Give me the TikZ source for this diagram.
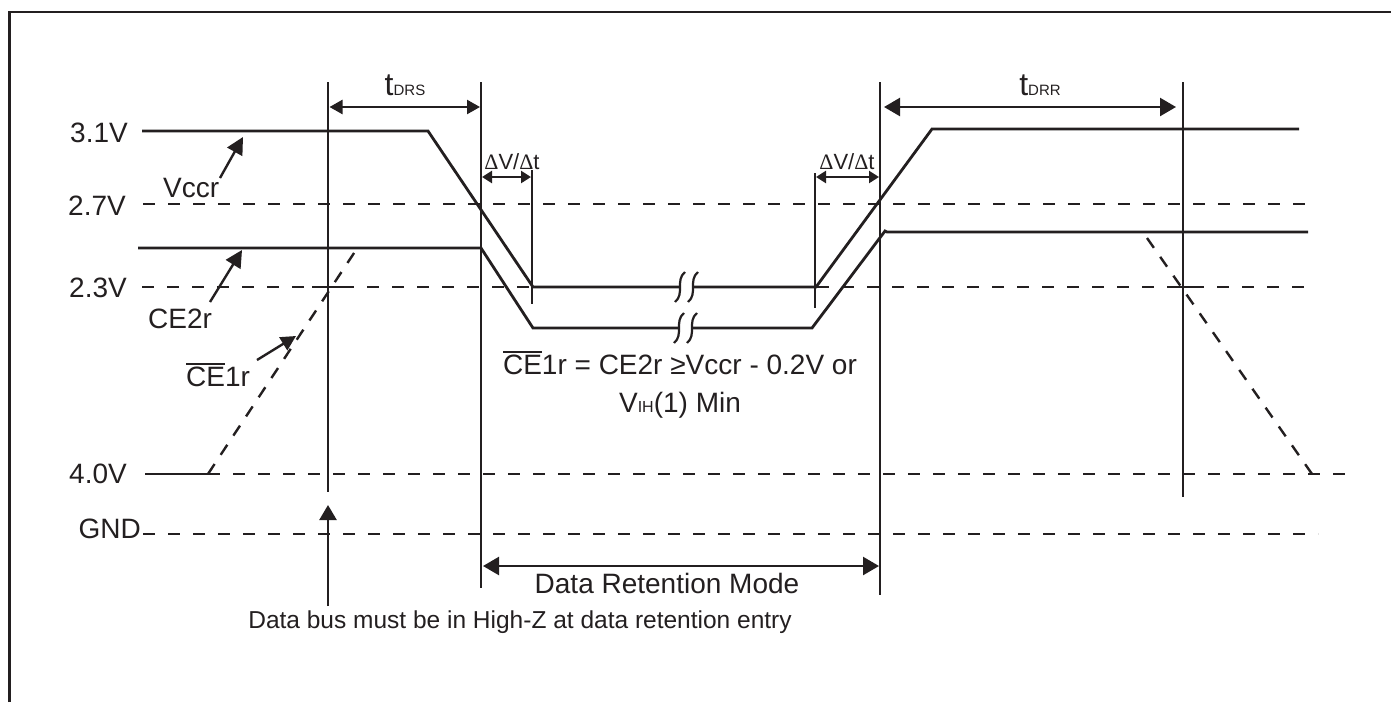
\documentclass[tikz,border=0pt]{standalone}
\usepackage{fontspec}
\setmainfont{Liberation Sans}
\newfontfamily\symfont{Liberation Serif}
\usetikzlibrary{arrows.meta}
\definecolor{ink}{HTML}{231F20}
\newcommand\ovl[1]{\leavevmode\vbox{\hrule height 1.6pt\kern 1.8pt\hbox{#1}}}
\newcommand\dlt{{\symfont Δ}}
\newcommand\breakmark[2]{\draw[line width=2.2pt] (#1+5,#2-15) .. controls (#1-5,#2-7) and (#1+5,#2+7) .. (#1-5,#2+15);}
\tikzset{
  sig/.style={line width=2.8pt, line join=miter},
  lvl/.style={line width=2.4pt, dash pattern=on 12pt off 13pt},
  cedash/.style={line width=2.4pt, dash pattern=on 12pt off 11pt},
  vline/.style={line width=2.4pt},
  tick/.style={line width=2pt},
  dimA/.style={line width=2.4pt, {Triangle[length=13pt,width=14pt]}-{Triangle[length=13pt,width=14pt]}},
  dimB/.style={line width=2.4pt, {Triangle[length=16pt,width=18pt]}-{Triangle[length=16pt,width=18pt]}},
  dimC/.style={line width=2.4pt, {Triangle[length=10pt,width=12pt]}-{Triangle[length=10pt,width=12pt]}},
  ptr/.style={line width=2.4pt, -{Triangle[length=17pt,width=17pt]}},
  lbl/.style={font=\fontsize{28}{32}\selectfont, inner sep=0pt},
  small/.style={font=\fontsize{22}{24}\selectfont, inner sep=0pt},
}
\begin{document}
\begin{tikzpicture}[x=1pt, y=-1pt, color=ink, line cap=butt]
\useasboundingbox (0,0) rectangle (1391,702);
% frame
\draw[line width=2.6pt] (9.5,702) -- (9.5,12) -- (1391,12);

% level labels
\node[lbl, anchor=base east] (l31) at (128,142) {3.1V};
\node[lbl, anchor=base east] (l27) at (126,215) {2.7V};
\node[lbl, anchor=base east] (l23) at (127,297) {2.3V};
\node[lbl, anchor=base east] (l40) at (127,483) {4.0V};
\node[lbl, anchor=base east] (lgnd) at (141,538) {GND};

% dashed reference levels
\draw[lvl] (143,204) -- (1315,204);
\draw[lvl] (142,287) -- (1315,287);
\draw[lvl] (208,474) -- (1350,474);
\draw[lvl] (143,534) -- (1318,534);

% vertical timing lines
\coordinate (v1t) at (328,82);  \coordinate (v1b) at (328,492);
\coordinate (v2t) at (481,82);  \coordinate (v2b) at (481,588);
\coordinate (v3t) at (532,170); \coordinate (v3b) at (532,304);
\coordinate (v4t) at (815,173); \coordinate (v4b) at (815,308);
\coordinate (v5t) at (880,82);  \coordinate (v5b) at (880,595);
\coordinate (v6t) at (1183,82); \coordinate (v6b) at (1183,497);
\draw[vline] (v1t) -- (v1b);
\draw[vline] (v2t) -- (v2b);
\draw[vline] (v3t) -- (v3b);
\draw[vline] (v4t) -- (v4b);
\draw[vline] (v5t) -- (v5b);
\draw[vline] (v6t) -- (v6b);

% Vccr waveform
\draw[sig] (142,131) -- (428,131) -- (533,287) -- (680,287);
\draw[sig] (693,287) -- (816,287) -- (932,129) -- (1299,129);
% CE2r waveform
\draw[sig] (138,248) -- (481,248) -- (533,328) -- (678,328);
\draw[sig] (692,328) -- (812,328) -- (885,231) -- (887,232) -- (1308,232);
% CE1r
\draw[sig] (145,474) -- (208,474);
\draw[cedash] (208,474) -- (358,247);
\draw[tick] (312,287) -- (343,287);
\draw[cedash] (1147,238) -- (1312,474);
\draw[tick] (1167,287) -- (1200,287);

% break marks
\fill[white] (681,279) rectangle (692,295);
\fill[white] (679,320) rectangle (691,336);
\breakmark{680}{287}
\breakmark{693}{287}
\breakmark{679}{328}
\breakmark{692}{328}

% dimension arrows
\coordinate (drsL) at (329.5,107); \coordinate (drsR) at (480,107);
\draw[dimA] (drsL) -- (drsR);
\node[anchor=base, inner sep=0pt] (tdrs) at (405,95) {{\fontsize{32}{34}\selectfont t}{\fontsize{15}{18}\selectfont DRS}};
\coordinate (drrL) at (884,107); \coordinate (drrR) at (1176,107);
\draw[dimB] (drrL) -- (drrR);
\node[anchor=base, inner sep=0pt] (tdrr) at (1040,95) {{\fontsize{32}{34}\selectfont t}{\fontsize{15}{18}\selectfont DRR}};
\coordinate (dv1L) at (482,177); \coordinate (dv1R) at (531,177);
\draw[dimC] (dv1L) -- (dv1R);
\node[small, anchor=base] (dv1) at (512,169) {\dlt V/\dlt t};
\coordinate (dv2L) at (816,177); \coordinate (dv2R) at (879,177);
\draw[dimC] (dv2L) -- (dv2R);
\node[small, anchor=base] (dv2) at (847,169) {\dlt V/\dlt t};
\coordinate (drmL) at (483,566); \coordinate (drmR) at (879,566);
\draw[dimB] (drmL) -- (drmR);
\node[lbl, anchor=base] (drm) at (667,593) {Data Retention Mode};

% signal labels with pointers
\node[lbl, anchor=base west] (vccr) at (163,197) {Vccr};
\coordinate (vccrTip) at (243,137);
\draw[ptr] (220,178) -- (vccrTip);
\node[lbl, anchor=base west] (ce2r) at (148,328) {CE2r};
\coordinate (ce2rTip) at (242,250);
\draw[ptr] (210,302) -- (ce2rTip);
\node[lbl, anchor=base west] (ce1r) at (186,386) {\ovl{CE}1r};
\coordinate (ce1rTip) at (296,336);
\draw[line width=2.4pt, -{Triangle[length=15pt,width=15pt]}] (257,360) -- (ce1rTip);

% condition text
\node[lbl, anchor=base] (cond1) at (680,374) {\ovl{CE}1r = CE2r ≥Vccr - 0.2V or};
\node[lbl, anchor=base] (cond2) at (680,412) {V{\fontsize{16}{18}\selectfont IH}(1) Min};

% data bus note
\coordinate (busTip) at (328,505);
\coordinate (busBot) at (328,606);
\draw[line width=2.4pt, -{Triangle[length=15pt,width=17pt]}] (busBot) -- (busTip);
\node[anchor=base, inner sep=0pt, font=\fontsize{24.5}{28}\selectfont] (bus) at (520,628) {Data bus must be in High-Z at data retention entry};
\end{tikzpicture}
\end{document}
